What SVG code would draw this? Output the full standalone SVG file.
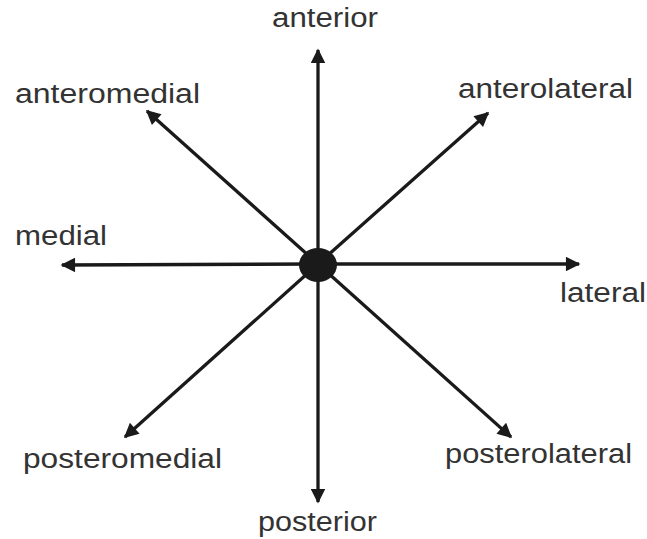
<svg xmlns="http://www.w3.org/2000/svg" width="647" height="539" viewBox="0 0 647 539">
<style>
.c line{stroke:#1a1a1a;stroke-width:3.3;marker-end:url(#ah)}
text{font-family:"Liberation Sans",Arial,sans-serif;font-size:27px;fill:#333}
</style>
<defs>
<marker id="ah" viewBox="0 0 10 10" refX="9" refY="5" markerWidth="6" markerHeight="4.4" orient="auto" markerUnits="strokeWidth">
<path d="M0,0 L10,5 L0,10 z" fill="#1a1a1a"/>
</marker>
</defs>
<rect width="647" height="539" fill="#fff"/>
<g class="c" id="connectors">
<line x1="318" y1="264" x2="318" y2="50"/>
<line x1="318" y1="264" x2="318" y2="502"/>
<line x1="318" y1="264" x2="62" y2="265"/>
<line x1="318" y1="264" x2="579" y2="264"/>
<line x1="318" y1="264" x2="147" y2="111"/>
<line x1="318" y1="264" x2="488" y2="113"/>
<line x1="318" y1="264" x2="125" y2="437"/>
<line x1="318" y1="264" x2="511" y2="437"/>
</g>
<g id="center"><ellipse cx="318" cy="265" rx="19" ry="17" fill="#1a1a1a"/></g>
<g id="anterior"><text x="272" y="27" textLength="106" lengthAdjust="spacingAndGlyphs">anterior</text></g>
<g id="anteromedial"><text x="15" y="103" textLength="185" lengthAdjust="spacingAndGlyphs">anteromedial</text></g>
<g id="anterolateral"><text x="458" y="98" textLength="175" lengthAdjust="spacingAndGlyphs">anterolateral</text></g>
<g id="medial"><text x="15" y="245" textLength="92" lengthAdjust="spacingAndGlyphs">medial</text></g>
<g id="lateral"><text x="560" y="302" textLength="86" lengthAdjust="spacingAndGlyphs">lateral</text></g>
<g id="posteromedial"><text x="23" y="468" textLength="199" lengthAdjust="spacingAndGlyphs">posteromedial</text></g>
<g id="posterolateral"><text x="445" y="463" textLength="187" lengthAdjust="spacingAndGlyphs">posterolateral</text></g>
<g id="posterior"><text x="258" y="531" textLength="119" lengthAdjust="spacingAndGlyphs">posterior</text></g>
</svg>
